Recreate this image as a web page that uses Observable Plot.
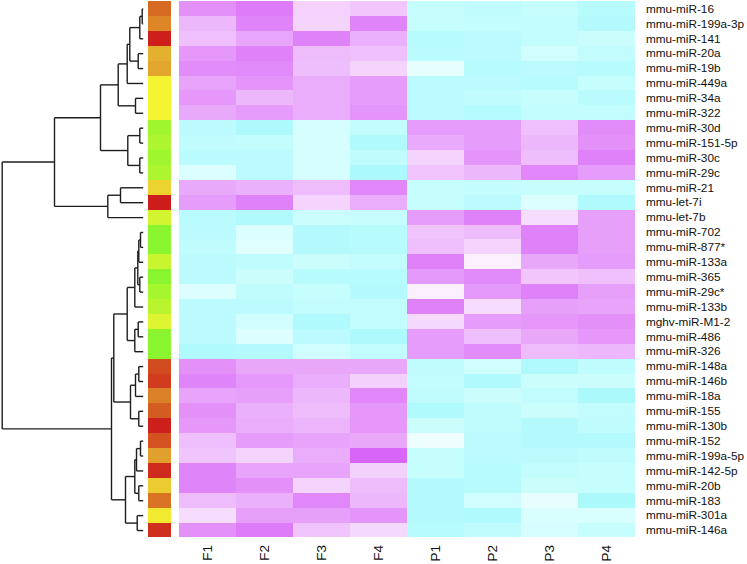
<!DOCTYPE html>
<html><head><meta charset="utf-8">
<script src="https://cdn.jsdelivr.net/npm/d3@7"></script>
<script src="https://cdn.jsdelivr.net/npm/@observablehq/plot@0.6"></script>
<style>
body{margin:0;background:#fff;}
#chart{position:relative;width:747px;height:564px;font-family:"Liberation Sans",Arial,sans-serif;overflow:hidden;}
#chart > div{position:absolute;top:0;}
</style></head><body>
<div id="chart"><div id="dendro"></div><div id="side"></div><div id="heat"></div></div>
<script>
const rows = ["mmu-miR-16","mmu-miR-199a-3p","mmu-miR-141","mmu-miR-20a","mmu-miR-19b","mmu-miR-449a","mmu-miR-34a","mmu-miR-322","mmu-miR-30d","mmu-miR-151-5p","mmu-miR-30c","mmu-miR-29c","mmu-miR-21","mmu-let-7i","mmu-let-7b","mmu-miR-702","mmu-miR-877*","mmu-miR-133a","mmu-miR-365","mmu-miR-29c*","mmu-miR-133b","mghv-miR-M1-2","mmu-miR-486","mmu-miR-326","mmu-miR-148a","mmu-miR-146b","mmu-miR-18a","mmu-miR-155","mmu-miR-130b","mmu-miR-152","mmu-miR-199a-5p","mmu-miR-142-5p","mmu-miR-20b","mmu-miR-183","mmu-miR-301a","mmu-miR-146a"];
const columns = ["F1","F2","F3","F4","P1","P2","P3","P4"];
const F1 = [0.72,0.46,0.41,0.67,0.75,0.6,0.67,0.56,-0.67,-0.6,-0.7,-0.32,0.56,0.64,-0.7,-0.67,-0.6,-0.67,-0.67,-0.3,-0.67,-0.67,-0.67,-0.87,0.72,0.8,0.6,0.72,0.67,0.42,0.38,0.79,0.8,0.44,0.22,0.72];
const F2 = [0.86,0.79,0.58,0.82,0.76,0.69,0.46,0.64,-0.9,-0.56,-0.67,-0.67,0.51,0.81,-0.87,-0.32,-0.28,-0.6,-0.45,-0.6,-0.67,-0.41,-0.31,-0.8,0.57,0.66,0.62,0.51,0.53,0.64,0.28,0.6,0.72,0.51,0.62,0.86];
const F3 = [0.29,0.28,0.82,0.44,0.43,0.53,0.53,0.53,-0.36,-0.36,-0.36,-0.36,0.44,0.28,-0.45,-0.8,-0.8,-0.45,-0.73,-0.5,-0.56,-0.87,-0.67,-0.41,0.57,0.53,0.46,0.44,0.49,0.6,0.53,0.6,0.28,0.78,0.62,0.39];
const F4 = [0.37,0.79,0.51,0.41,0.28,0.64,0.64,0.69,-0.56,-0.85,-0.6,-0.95,0.78,0.53,-0.5,-0.73,-0.73,-0.56,-0.73,-0.8,-0.56,-0.56,-0.9,-0.56,0.57,0.3,0.78,0.67,0.67,0.57,1.0,0.3,0.44,0.46,0.69,0.25];
const P1 = [-0.5,-0.5,-0.73,-0.7,-0.22,-0.67,-0.67,-0.67,0.64,0.55,0.28,0.39,-0.5,-0.5,0.64,0.39,0.42,0.81,0.66,0.1,0.81,0.25,0.64,0.64,-0.6,-0.56,-0.6,-0.87,-0.45,-0.15,-0.5,-0.5,-0.8,-0.8,-0.8,-0.73];
const P2 = [-0.6,-0.55,-0.67,-0.67,-0.73,-0.67,-0.6,-0.78,0.64,0.64,0.69,0.47,-0.55,-0.67,0.81,0.44,0.28,0.1,0.76,0.66,0.22,0.64,0.42,0.75,-0.41,-0.87,-0.45,-0.6,-0.6,-0.67,-0.67,-0.73,-0.73,-0.41,-0.87,-0.6];
const P3 = [-0.5,-0.55,-0.56,-0.41,-0.67,-0.73,-0.5,-0.56,0.41,0.46,0.43,0.78,-0.5,-0.3,0.22,0.81,0.81,0.57,0.37,0.82,0.62,0.67,0.57,0.44,-0.87,-0.45,-0.56,-0.45,-0.8,-0.8,-0.67,-0.56,-0.45,-0.2,-0.33,-0.36];
const P4 = [-0.73,-0.8,-0.45,-0.56,-0.73,-0.5,-0.7,-0.56,0.75,0.72,0.82,0.64,-0.5,-0.87,0.62,0.62,0.62,0.64,0.41,0.62,0.6,0.72,0.67,0.47,-0.6,-0.45,-0.93,-0.56,-0.6,-0.8,-0.6,-0.5,-0.5,-0.93,-0.33,-0.5];
const sideScore = [1,1.4,0.05,2,1.85,3,3,3,3.79,3.66,3.79,3.66,2.5,0,3.31,3.98,3.98,3.41,3.98,3.73,3.56,3.22,3.98,3.98,0.59,0.41,1.31,0.82,0.05,0.69,1.77,0.18,2.4,1.14,2.84,0.26];
// hclust-style merges: negative = leaf (1-based row), positive = earlier merge (1-based); third = height
const merges = [
  [-1,-2,0.10],[1,-3,0.34],[-4,-5,0.50],[2,3,1.34],[4,-6,1.60],[-7,-8,0.77],[5,6,2.50],
  [-9,-10,0.34],[-11,-12,0.34],[8,9,1.54],[7,10,4.27],[-13,-14,2.27],[12,-15,3.54],[11,13,8.87],
  [-16,-17,0.27],[15,-18,0.44],[-19,-20,0.34],[16,17,0.54],[18,-21,0.84],[-22,-23,0.50],[20,-24,0.84],
  [19,21,1.60],[-25,-26,0.44],[23,-27,0.77],[-28,-29,0.44],[24,25,1.27],[22,26,2.94],
  [-30,-31,0.27],[28,-32,0.67],[-33,-34,0.44],[29,30,0.84],[-35,-36,0.60],[31,32,1.77],[27,33,3.17],[14,34,14.1]
];

const series = {F1, F2, F3, F4, P1, P2, P3, P4};
const H = 564, TOP = 1, BOTTOM = 564 - 537.5;
const font = '"Liberation Sans", Arial, sans-serif';

// dendrogram segments
const nodeY = [], nodeH = [];
const pos = (k) => k < 0 ? {y: -k - 1, h: 0} : {y: nodeY[k - 1], h: nodeH[k - 1]};
const segs = [];
merges.forEach(([a, b, h]) => {
  const A = pos(a), B = pos(b);
  segs.push({x1: h, y1: A.y, x2: h, y2: B.y});
  segs.push({x1: h, y1: A.y, x2: A.h, y2: A.y});
  segs.push({x1: h, y1: B.y, x2: B.h, y2: B.y});
  nodeY.push((A.y + B.y) / 2); nodeH.push(h);
});
const maxH = d3.max(merges, m => m[2]);

const dendro = Plot.plot({
  width: 147, height: H,
  marginLeft: 1.7, marginRight: 4.3, marginTop: TOP, marginBottom: BOTTOM,
  x: {domain: [maxH, 0], axis: null},
  y: {domain: [rows.length - 0.5, -0.5], axis: null},
  style: {background: "transparent"},
  marks: [Plot.link(segs, {x1: "x1", y1: "y1", x2: "x2", y2: "y2", stroke: "#1e1e1e", strokeWidth: 1.4})]
});
const dd = document.getElementById("dendro"); dd.style.left = "0px"; dd.append(dendro);

const side = Plot.plot({
  width: 23.3, height: H,
  marginLeft: 0, marginRight: 0, marginTop: TOP, marginBottom: BOTTOM,
  y: {type: "band", domain: rows, padding: 0, axis: null},
  color: {type: "linear", domain: [0, 1, 2, 3, 4], range: ["#cc1c1c", "#d66a22", "#e4b030", "#f4f530", "#88f52e"], interpolate: "rgb"},
  style: {background: "transparent"},
  marks: [Plot.cell(rows, {y: d => d, fill: (d, i) => sideScore[i], inset: 0, shapeRendering: "crispEdges"})]
});
const sd = document.getElementById("side"); sd.style.left = "147.7px"; sd.append(side);

const table = rows.flatMap((r, i) => columns.map(c => ({row: r, col: c, value: series[c][i]})));
const heat = Plot.plot({
  width: 569.7, height: H,
  marginLeft: 0, marginRight: 109.3, marginTop: TOP, marginBottom: BOTTOM,
  x: {type: "band", domain: columns, padding: 0},
  y: {type: "band", domain: rows, padding: 0},
  color: {type: "linear", domain: [-1, -0.5, 0, 1], range: ["#a8f8fc", "#c6fdfd", "#ffffff", "#d865f7"], interpolate: "rgb"},
  style: {background: "transparent", fontFamily: font, overflow: "visible"},
  marks: [
    Plot.cell(table, {x: "col", y: "row", fill: "value", inset: 0, shapeRendering: "crispEdges"}),
    Plot.axisY({anchor: "right", tickSize: 0, tickPadding: 8, fontSize: 11.8, fill: "#111", label: null}),
    Plot.axisX({anchor: "bottom", tickSize: 0, tickPadding: 7, tickRotate: -90, fontSize: 13.5, fill: "#111", label: null})
  ]
});
const hd = document.getElementById("heat"); hd.style.left = "177.3px"; hd.append(heat);
</script>
</body></html>
